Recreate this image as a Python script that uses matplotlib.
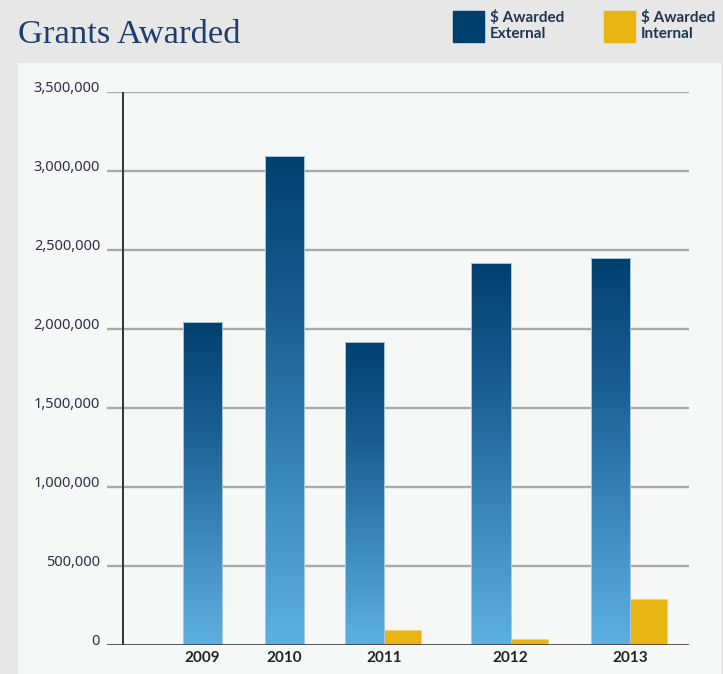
import numpy as np
import matplotlib
matplotlib.use("Agg")
import matplotlib.pyplot as plt
from matplotlib.colors import LinearSegmentedColormap
from matplotlib.patches import Rectangle, Patch
from matplotlib.transforms import ScaledTranslation

# ---- data ----
years = ["2009", "2010", "2011", "2012", "2013"]
external = [2045000, 3095000, 1920000, 2420000, 2450000]
internal = [0, 0, 95000, 43000, 294000]
yticks = [0, 500000, 1000000, 1500000, 2000000, 2500000, 3000000, 3500000]
title = "Grants Awarded"
legend_labels = [r"\$ Awarded" + "\nExternal", r"\$ Awarded" + "\nInternal"]

# ---- layout (group centres in slot units) ----
group_pos = [0.94, 1.92, 3.10, 4.61, 6.03]
w_ext = 0.465
w_int = 0.44

W, H = 723, 674
fig = plt.figure(figsize=(W / 100, H / 100), dpi=100)
fig.patch.set_facecolor("#e7e7e7")
panel = Rectangle((18 / W, 0), (721 - 18) / W, (H - 63) / H,
                  transform=fig.transFigure, facecolor="#f6f8f8",
                  edgecolor="none", zorder=-5)
fig.add_artist(panel)

ax_l, ax_r, ax_top, ax_bot = 107, 689, 92.3, 645.3
ax = fig.add_axes([ax_l / W, (H - ax_bot) / H, (ax_r - ax_l) / W, (ax_bot - ax_top) / H])
ax.set_zorder(2)
ax.set_facecolor("none")
for s in ax.spines.values():
    s.set_visible(False)

px_per_unit = 84.0
xmin = (ax_l - 123.3) / px_per_unit
xmax = (ax_r - 123.3) / px_per_unit

cmap = LinearSegmentedColormap.from_list("blu", ["#5fb0e2", "#3b88bd", "#1a5f93", "#00406f"])
grad = np.linspace(0, 1, 256).reshape(-1, 1)

ext_x = []
int_x = []
for p, iv in zip(group_pos, internal):
    if iv > 0:
        ext_x.append(p - w_ext / 2)
        int_x.append(p + w_int / 2)
    else:
        ext_x.append(p)
        int_x.append(p + w_int / 2)

# gridlines
for t in yticks[1:]:
    ax.axhline(t, color="#a9a9a9", lw=1.7, zorder=1)

ext_bars = ax.bar(ext_x, external, width=w_ext, facecolor="none",
                  edgecolor="#a8c8e0", linewidth=0.7, zorder=4)
for b in ext_bars:
    x0, wd, h = b.get_x(), b.get_width(), b.get_height()
    im = ax.imshow(grad, extent=[x0, x0 + wd, 0, h], origin="lower", aspect="auto",
                   cmap=cmap, zorder=3, interpolation="bilinear")
    im.set_clip_path(b)

int_bars = ax.bar(int_x, internal, width=w_int, color="#e8b512",
                  edgecolor="#f2d27c", linewidth=0.7, zorder=3)
for b, v in zip(int_bars, internal):
    if v == 0:
        b.set_visible(False)

# baseline & y axis
ax.axhline(0, color="#3c3c3c", lw=1.9, zorder=5)
ax.plot([0, 0], [0, yticks[-1]], color="#333333", lw=1.4, zorder=5, solid_capstyle="butt")

ax.set_xlim(xmin, xmax)
ax.set_ylim(0, yticks[-1])

ax.set_yticks(yticks)
ax.set_yticklabels([f"{v:,.0f}" for v in yticks], family="Noto Sans",
                   fontsize=10.5, color="#2f3048")
ax.tick_params(axis="y", length=0, pad=5)
off = ScaledTranslation(0, 6 / 100, fig.dpi_scale_trans)
for lab in ax.get_yticklabels():
    lab.set_transform(lab.get_transform() + off)

ax.set_xticks(group_pos)
ax.set_xticklabels(years, family="Lato", fontsize=11, fontweight="bold",
                   color="#222222")
ax.tick_params(axis="x", length=0, pad=4)

fig.text(18 / W, 1 - 43 / H, title, family="Liberation Serif", fontsize=24.8,
         color="#1e3d6b", va="baseline", ha="left")

handles = [Patch(facecolor="#00406f", edgecolor="#00406f"),
           Patch(facecolor="#e8b512", edgecolor="#e8b512")]
leg = fig.legend(handles, legend_labels, loc="upper left",
                 bbox_to_anchor=(453 / W, 1 - 10 / H), ncol=2, frameon=False,
                 handlelength=2.03, handleheight=2.73, handletextpad=0.4,
                 columnspacing=2.6, borderpad=0, borderaxespad=0, labelspacing=0.2,
                 prop={"family": "Lato", "size": 11, "weight": "bold"},
                 labelcolor="#1f3550")
for t in leg.get_texts():
    t.set_linespacing(1.15)

fig.savefig("out.png", dpi=100, facecolor=fig.get_facecolor())
